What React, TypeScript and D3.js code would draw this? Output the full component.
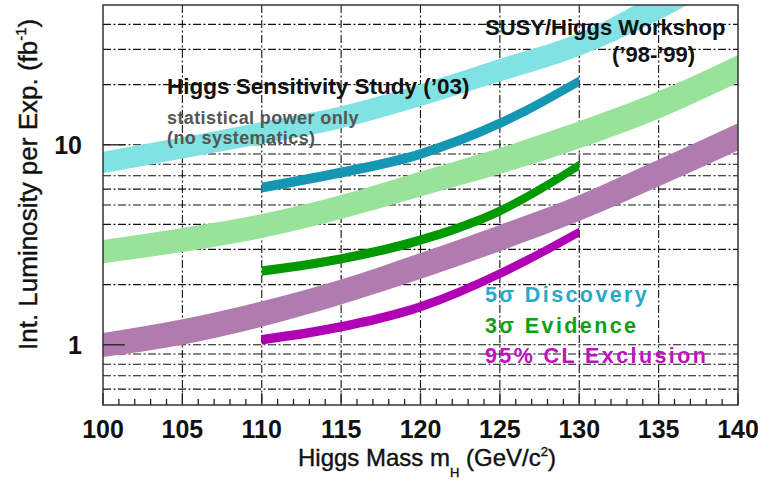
import React from "react";
import * as d3 from "d3";

// ---- data ----
const bandMasses = [100, 105, 110, 115, 120, 125, 130, 135, 140];
const workshopDiscLo = [7.2, 8.54, 10.1, 12.1, 15.6, 20.7, 27.8, 42, 70];
const workshopDiscHi = [9.24, 10.9, 13.0, 15.6, 20.1, 26.9, 36.2, 58.1, 100];
const workshopEvidLo = [2.56, 2.91, 3.42, 4.26, 5.52, 7.14, 9.58, 13.5, 20.4];
const workshopEvidHi = [3.34, 3.84, 4.51, 5.61, 7.36, 9.64, 13.1, 18.5, 28.1];
const workshopExclLo = [0.869, 1.0, 1.23, 1.59, 2.13, 2.94, 4.16, 6.19, 9.37];
const workshopExclHi = [1.146, 1.34, 1.65, 2.12, 2.88, 3.97, 5.61, 8.44, 12.8];

const studyMasses = [110, 115, 120, 125, 130];
const studyDisc = [6.12, 7.27, 9.0, 12.8, 20.8];
const studyEvid = [2.34, 2.69, 3.34, 4.67, 7.9];
const studyExcl = [1.06, 1.23, 1.55, 2.27, 3.66];

const xTickValues = [100, 105, 110, 115, 120, 125, 130, 135, 140];
const xTickLabels = ["100", "105", "110", "115", "120", "125", "130", "135", "140"];
const yGridValues = [0.6, 0.7, 0.8, 0.9, 1, 2, 3, 4, 5, 6, 7, 8, 9, 10, 20, 30, 40];
const yLabelValues = [1, 10];
const yLabels = ["1", "10"];

const FONT = "'Liberation Sans', Arial, Helvetica, sans-serif";

export default function App() {
  const W = 764, H = 482;
  const left = 103, right = 738, top = 5, bottom = 405;
  const x = d3.scaleLinear().domain([100, 140]).range([left, right]);
  const y = d3.scaleLog().domain([0.5, 50]).range([bottom, top]);

  const bandArea = (lo: number[], hi: number[]) =>
    d3
      .area<number>()
      .x((_, i) => x(bandMasses[i]))
      .y0((_, i) => y(lo[i]))
      .y1((_, i) => y(hi[i]))
      .curve(d3.curveMonotoneX)(bandMasses) as string;

  const lineArea = (vals: number[], half: number) =>
    d3
      .area<number>()
      .x((_, i) => x(studyMasses[i]))
      .y0((_, i) => y(vals[i]) + half)
      .y1((_, i) => y(vals[i]) - half)
      .curve(d3.curveMonotoneX)(studyMasses) as string;

  const minorX = d3.range(100, 141, 1);
  const dash = "8,2.5,2,2.5";

  return (
    <svg
      width={W}
      height={H}
      style={{ position: "absolute", left: 0, top: 0, background: "#fff" }}
      fontFamily={FONT}
    >
      <defs>
        <clipPath id="plotclip">
          <rect x={left} y={top} width={right - left} height={bottom - top} />
        </clipPath>
      </defs>
      <rect x={0} y={0} width={W} height={H} fill="#fff" />

      {/* grid */}
      <g stroke="#111" strokeWidth={1.1} strokeDasharray={dash}>
        {yGridValues.map((v) => (
          <line key={"h" + v} x1={left} x2={right} y1={y(v)} y2={y(v)} />
        ))}
        {xTickValues.slice(1, -1).map((v) => (
          <line key={"v" + v} x1={x(v)} x2={x(v)} y1={top} y2={bottom} />
        ))}
      </g>

      {/* bands */}
      <g clipPath="url(#plotclip)">
        <path d={bandArea(workshopDiscLo, workshopDiscHi)} fill="#80e2e2" />
        <path d={bandArea(workshopEvidLo, workshopEvidHi)} fill="#98e29a" />
        <path d={bandArea(workshopExclLo, workshopExclHi)} fill="#b07cb0" />
        <path d={lineArea(studyDisc, 5)} fill="#1597b4" />
        <path d={lineArea(studyEvid, 4.7)} fill="#009a00" />
        <path d={lineArea(studyExcl, 4.7)} fill="#b000b4" />
      </g>

      {/* ticks */}
      <g stroke="#222" strokeWidth={1.3}>
        {minorX.map((v) => (
          <line
            key={"mx" + v}
            x1={x(v)}
            x2={x(v)}
            y1={bottom}
            y2={bottom - (v % 5 === 0 ? 12 : 6)}
          />
        ))}
        {yLabelValues.map((v) => (
          <line key={"my" + v} x1={left} x2={left + 22} y1={y(v)} y2={y(v)} />
        ))}
      </g>

      {/* frame */}
      <rect
        x={left}
        y={top}
        width={right - left}
        height={bottom - top}
        fill="none"
        stroke="#333"
        strokeWidth={1.5}
      />

      {/* tick labels */}
      <g fontSize={25} fontWeight="bold" fill="#111">
        {xTickValues.map((v, i) => (
          <text key={"xl" + v} x={x(v)} y={438} textAnchor="middle">
            {xTickLabels[i]}
          </text>
        ))}
        {yLabelValues.map((v, i) => (
          <text key={"yl" + v} x={82} y={y(v) + 9} textAnchor="end">
            {yLabels[i]}
          </text>
        ))}
      </g>

      {/* axis titles */}
      <text x={298} y={466} fontSize={24} fill="#111" stroke="#111" strokeWidth={0.4}>
        Higgs Mass m
        <tspan fontSize={13} dy={11}>H</tspan>
        <tspan dy={-11}> (GeV/c</tspan>
        <tspan fontSize={13} dy={-10}>2</tspan>
        <tspan dy={10}>)</tspan>
      </text>
      <text
        transform="translate(37,350) rotate(-90)"
        fontSize={26}
        fill="#111"
        stroke="#111"
        strokeWidth={0.4}
      >
        Int. Luminosity per Exp. (fb
        <tspan fontSize={15} dy={-11}>-1</tspan>
        <tspan dy={11}>)</tspan>
      </text>

      {/* annotations */}
      <text x={167} y={94} fontSize={22.5} fontWeight="bold" fill="#111">
        Higgs Sensitivity Study (’03)
      </text>
      <g fontSize={18} fontWeight="bold" fill="#555" letterSpacing={0.4}>
        <text x={167} y={124}>statistical power only</text>
        <text x={167} y={144}>(no systematics)</text>
      </g>
      <text x={485} y={35} fontSize={22} fontWeight="bold" fill="#111">
        SUSY/Higgs Workshop
      </text>
      <text x={612} y={62} fontSize={22} fontWeight="bold" fill="#111">
        (’98-’99)
      </text>

      {/* legend */}
      <g fontSize={21.5} fontWeight="bold" letterSpacing={2.4}>
        <text x={485} y={302} fill="#29a9c9">5σ Discovery</text>
        <text x={485} y={333} fill="#10a010">3σ Evidence</text>
        <text x={485} y={363} fill="#c010c0">95% CL Exclusion</text>
      </g>
    </svg>
  );
}
